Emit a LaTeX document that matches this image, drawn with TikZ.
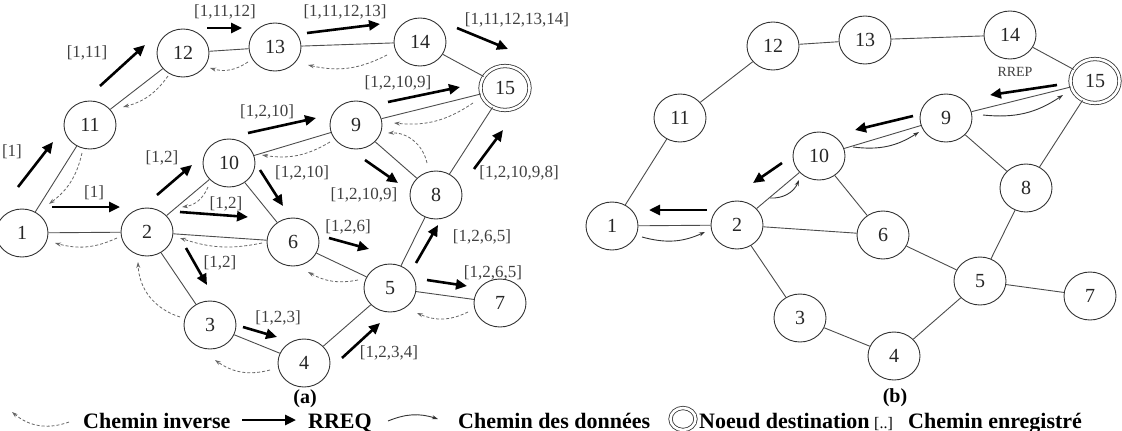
\documentclass[tikz,border=0pt]{standalone}
\usepackage{fontspec}
\setmainfont{Liberation Serif}
\usetikzlibrary{shapes.geometric,arrows.meta,positioning}

\begin{document}
\begin{tikzpicture}[x=1pt,y=-1pt,
    host/.style={ellipse, draw=black!80, line width=0.9pt, minimum width=52pt, minimum height=48pt, inner sep=0pt, text=black!85, font=\fontsize{20}{20}\selectfont},
    desthost/.style={host, double=white, double distance=2.6pt, line width=0.8pt, minimum width=49pt, minimum height=44pt},
    link/.style={draw=black!70, line width=0.9pt},
    rreq/.style={black, line width=2.6pt, -{Triangle[length=11pt,width=10pt]}},
    revpath/.style={black!60, line width=0.8pt, dash pattern=on 3pt off 2pt, -{Stealth[length=6pt,width=4pt]}},
    datapath/.style={black!80, line width=0.9pt, -{Stealth[length=6pt,width=4pt]}},
    route/.style={text=black!75, inner sep=0pt, font=\fontsize{17}{17}\selectfont},
    legendtext/.style={anchor=base west, inner sep=0pt, font=\fontsize{22}{22}\selectfont\bfseries}
  ]
  \useasboundingbox (0,0) rectangle (1122,431);

  % same network twice: (a) RREQ flooding, (b) RREP and data
  \foreach \g/\dx/\dy in {a/0/0, b/590/-7}{
    \begin{scope}[name prefix=\g-, shift={(\dx,\dy)}]
      \foreach \n/\x/\y in {1/22/233, 2/147/232, 3/210/325, 4/304/363, 5/390/288,
                            6/293/242, 7/500/303, 8/436/195, 9/356/125, 10/229/163,
                            11/90/125, 12/183/53, 13/275/47, 14/420/42}
        \node[host] (n\n) at (\x,\y) {\n};
      \node[desthost] (n15) at (505,88) {15};
      \foreach \u/\v in {1/11, 1/2, 11/12, 12/13, 13/14, 14/15, 2/10, 2/6, 2/3,
                         10/9, 10/6, 9/15, 9/8, 8/15, 8/5, 6/5, 3/4, 4/5, 5/7}
        \draw[link] (n\u) -- (n\v);
    \end{scope}
  }

  % (a) RREQ with the recorded route
  \foreach \xa/\ya/\xb/\yb/\lx/\ly/\lab in {
      18/187/53/142/12/152/{[1]}, 100/86/145/45/87/53/{[1,11]},
      207/28/242/28/225/12/{[1,11,12]}, 307/33/380/24/345/12/{[1,11,12,13]},
      457/28/508/49/517/20/{[1,11,12,13,14]}, 52/207/120/207/94/193/{[1]},
      157/195/192/165/162/158/{[1,2]}, 180/212/248/217/226/204/{[1,2]},
      260/170/283/206/302/173/{[1,2,10]}, 186/248/207/285/220/263/{[1,2]},
      248/133/316/118/267/112/{[1,2,10]}, 388/102/460/87/398/83/{[1,2,10,9]},
      365/160/398/183/364/195/{[1,2,10,9]}, 474/169/503/130/519/173/{[1,2,10,9,8]},
      329/238/369/249/348/227/{[1,2,6]}, 416/263/438/225/482/237/{[1,2,6,5]},
      427/280/467/286/493/273/{[1,2,6,5]}, 243/327/277/337/278/318/{[1,2,3]},
      342/358/380/323/389/353/{[1,2,3,4]}}
  {
    \draw[rreq] (\xa,\ya) -- (\xb,\yb);
    \node[route] at (\lx,\ly) {\lab};
  }

  % (a) reverse path
  \foreach \xa/\ya/\xb/\yb/\b in {82/153/49/204/20, 168/76/123/107/20,
      248/62/210/68/25, 387/55/308/65/20, 117/238/55/243/20, 208/187/182/207/30,
      262/243/180/238/15, 180/317/138/262/35, 270/370/215/360/25, 330/142/262/155/20,
      473/103/394/123/20, 427/163/388/133/-40, 358/280/308/272/20, 468/312/417/313/25}
    \draw[revpath] (\xa,\ya) to[bend left=\b] (\xb,\yb);

  % (b) RREP back to the source, then the data
  \draw[rreq] (1057,85) -- (990,95);
  \node[route, font=\fontsize{14}{14}\selectfont] (rrep) at (1015,72) {RREP};
  \draw[rreq] (913,116) -- (855,130);
  \draw[rreq] (782,163) -- (753,183);
  \draw[rreq] (707,210) -- (649,210);
  \draw[datapath] (642,237) to[bend right=20] (705,232);
  \draw[datapath] (770,198) to[bend right=35] (799,180);
  \draw[datapath] (853,147) to[bend right=20] (919,132);
  \draw[datapath] (983,115) to[bend right=20] (1063,95);

  \node[font=\fontsize{20}{20}\selectfont\bfseries] (capa) at (305,399) {(a)};
  \node[font=\fontsize{20}{20}\selectfont\bfseries] (capb) at (895,398) {(b)};

  % key
  \draw[revpath] (69,422) to[bend left=30] (12,412);
  \node[legendtext] (invtext) at (83,428) {Chemin inverse};
  \draw[rreq] (242,420) -- (296,420);
  \node[legendtext] (rreqtext) at (308,428) {RREQ};
  \draw[datapath] (388,421) to[bend left=20] (438,419);
  \node[legendtext] (datatext) at (458,428) {Chemin des données};
  \node[desthost, minimum width=25pt, minimum height=22pt] (destkey) at (683,419) {};
  \node[legendtext] (desttext) at (699,428) {Noeud destination};
  \node[anchor=base west, inner sep=0pt, font=\fontsize{16}{16}\selectfont] (recsym) at (874,428) {[..]};
  \node[legendtext] (rectext) at (908,428) {Chemin enregistré};
\end{tikzpicture}
\end{document}
